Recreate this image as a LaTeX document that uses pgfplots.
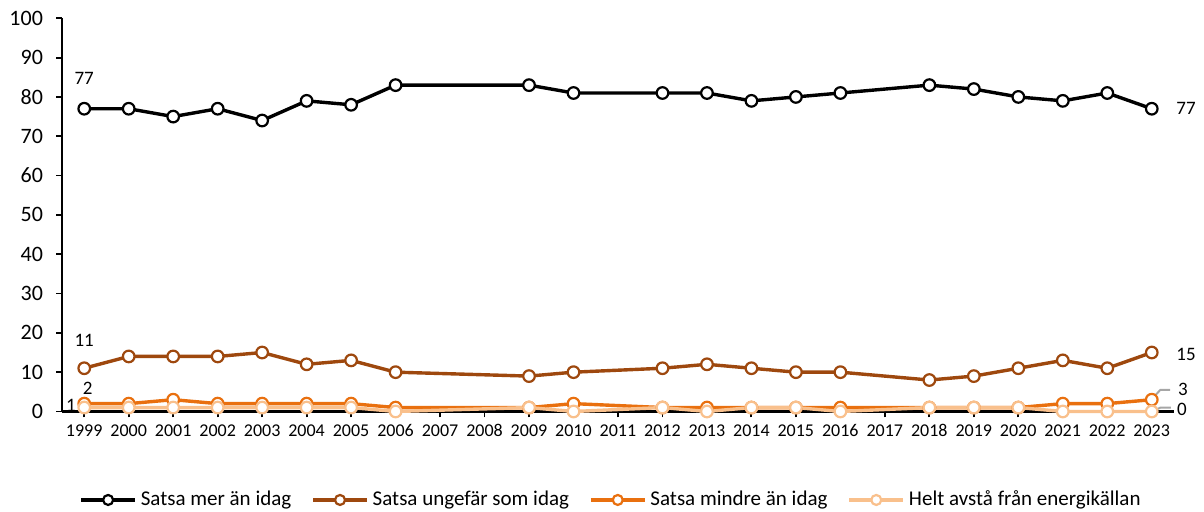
\documentclass[border=0pt]{standalone}
\usepackage{fontspec}
\setmainfont{Carlito}
\usepackage{pgfplots}
\usepackage{pgfplotstable}
\pgfplotsset{compat=1.18}

\definecolor{cBrown}{HTML}{9E480E}
\definecolor{cOrange}{HTML}{E9700F}
\definecolor{cLight}{HTML}{F9C08C}
\definecolor{cLead}{HTML}{A6A6A6}

% andelar i procent per år (2007, 2008, 2011, 2017 saknas)
\pgfplotstableread{
year mer ungefar mindre avsta
1999 77 11 2 1
2000 77 14 2 1
2001 75 14 3 1
2002 77 14 2 1
2003 74 15 2 1
2004 79 12 2 1
2005 78 13 2 1
2006 83 10 1 0
2009 83 9  1 1
2010 81 10 2 0
2012 81 11 1 1
2013 81 12 1 0
2014 79 11 1 1
2015 80 10 1 1
2016 81 10 1 0
2018 83 8  1 1
2019 82 9  1 1
2020 80 11 1 1
2021 79 13 2 0
2022 81 11 2 0
2023 77 15 3 0
}\datatable

\begin{document}
\begin{tikzpicture}
\path[use as bounding box] (-31pt,-50.25pt) rectangle (571pt,205.75pt);
\begin{axis}[
    at={(0pt,0pt)}, anchor=south west,
    scale only axis,
    width=556pt, height=196.6pt,
    xmin=1998.5, xmax=2023.5,
    ymin=0, ymax=100,
    axis x line*=bottom, axis y line*=left,
    axis line style={-, line width=1.1pt, black},
    xtick={1999,...,2023},
    ytick={0,10,...,100},
    tick align=outside,
    major tick length=3pt,
    tick style={black, line width=0.9pt},
    /pgf/number format/assume math mode=true,
    /pgf/number format/1000 sep={},
    xticklabel style={font=\fontsize{9}{10}\selectfont},
    yticklabel style={font=\fontsize{11}{13}\selectfont, xshift=-3pt},
    clip=false,
    every axis plot/.append style={line width=1.7pt, mark=*, mark size=2.9pt,
        mark options={fill=white, line width=1.1pt}},
    legend columns=4,
    legend style={at={(0.4946,-0.225)}, anchor=center, draw=none,
        font=\fontsize{10.5}{12}\selectfont,
        /tikz/every even column/.append style={column sep=8pt}},
    legend image code/.code={
        \draw[mark repeat=2, mark phase=2, #1, mark size=2.5pt]
            plot coordinates {(0pt,0pt) (13.5pt,0pt) (27pt,0pt)};},
]
\addplot[black] table[x=year, y=mer] {\datatable};
\addplot[cBrown] table[x=year, y=ungefar] {\datatable};
\addplot[cOrange] table[x=year, y=mindre] {\datatable};
\addplot[cLight] table[x=year, y=avsta] {\datatable};
\legend{Satsa mer än idag, Satsa ungefär som idag, Satsa mindre än idag, Helt avstå från energikällan}

% dataetiketter
\begin{scope}[every node/.style={font=\fontsize{9.5}{11}\selectfont, inner sep=0pt}]
\node at (axis cs:1999,84.6) {77};
\node at (axis cs:1999,18.2) {11};
\node at (axis cs:1999.08,6.0) {2};
\node at (axis cs:1998.7,1.65) {1};
\node at (axis cs:2023.77,77.2) {77};
\node at (axis cs:2023.77,14.6) {15};
\node at (axis cs:2023.7,5.5) {3};
\node at (axis cs:2023.68,0.6) {0};
\end{scope}
\draw[cLead, line width=1pt] (axis cs:2023.02,3.36) -- (axis cs:2023.19,5.47) -- (axis cs:2023.41,5.47);
\draw[cLead, line width=1pt] (axis cs:2023.08,0.38) -- (axis cs:2023.19,0.97) -- (axis cs:2023.43,0.97);
\end{axis}
\end{tikzpicture}
\end{document}
